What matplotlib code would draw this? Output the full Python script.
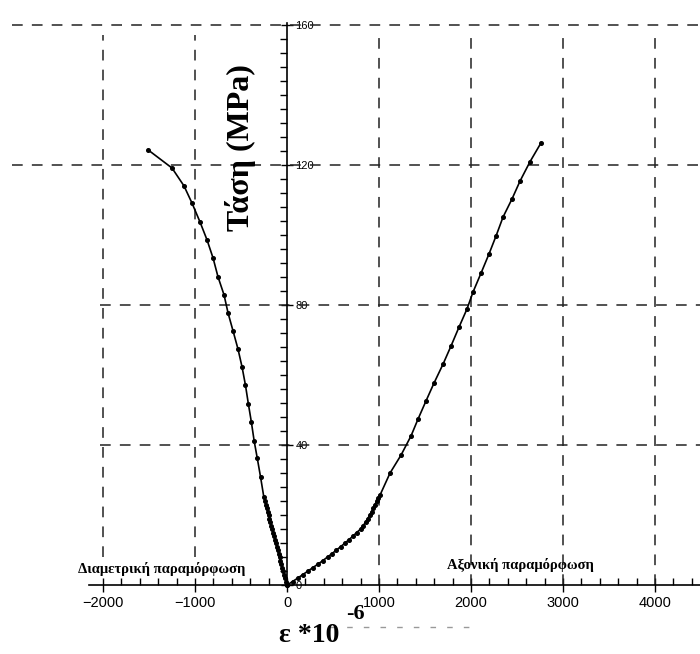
import numpy as np
import matplotlib.pyplot as plt
from matplotlib.ticker import FixedLocator

# diametric strain (negative side), micro-strain vs MPa
diam_strain = [-1511, -1250, -1120, -1033, -946, -870, -804, -750, -685, -641,
               -587, -533, -489, -452, -420, -388, -357, -324, -288, -252,
               -241, -231, -221, -211, -201, -191, -181, -171, -161, -151,
               -141, -131, -121, -111, -101, -91, -81, -71, -61, -51,
               -40, -30, -20, -10, 0]
diam_stress = [124.3, 119.1, 114.0, 109.1, 103.7, 98.6, 93.4, 88.0, 82.9, 77.7,
               72.6, 67.4, 62.3, 57.1, 51.7, 46.6, 41.1, 36.3, 30.9, 25.1,
               24, 23, 22, 21, 20, 19, 18, 17, 16, 15,
               14, 13, 12, 11, 10, 9, 8, 7, 6, 5,
               4, 3, 2, 1, 0]

# axial strain (positive side)
axial_strain = [2761, 2641, 2533, 2446, 2348, 2272, 2196, 2109, 2022, 1957,
                1870, 1783, 1696, 1598, 1511, 1424, 1348, 1239, 1120, 1011,
                992, 975, 957, 939, 920, 900, 878, 855, 828, 800,
                757, 717, 675, 630, 585, 537, 490, 440, 390, 338,
                282, 228, 172, 118, 60, 0]
axial_stress = [126.3, 120.9, 115.4, 110.3, 105.1, 99.7, 94.6, 89.1, 83.7, 78.9,
                73.7, 68.3, 63.1, 57.7, 52.6, 47.4, 42.6, 37.1, 32.0, 25.7,
                25, 24, 23, 22, 21, 20, 19, 18, 17, 16,
                15, 14, 13, 12, 11, 10, 9, 8, 7, 6,
                5, 4, 3, 2, 1, 0]

x_major = [-2000, -1000, 0, 1000, 2000, 3000, 4000]
y_major = [0, 40, 80, 120, 160]
grid_x_neg = [-2000, -1000]
grid_x_pos = [1000, 2000, 3000, 4000]
grid_y_long = [120, 160]
grid_y_short = [40, 80]

fig = plt.figure(figsize=(7.0, 6.54), dpi=100)
ax = fig.add_axes([0, 0, 1, 1])
ax.set_xlim(-3120, 4489)
ax.set_ylim(-19.7, 167.1)

dash = (0, (7, 6))
gcol = '#222222'
ax.hlines(grid_y_long, -2990, 4489, colors=gcol, linestyles=dash, lw=1.1)
ax.hlines(grid_y_short, -2030, 4489, colors=gcol, linestyles=dash, lw=1.1)
ax.vlines(grid_x_neg, 8, 157, colors=gcol, linestyles=dash, lw=1.1)
ax.vlines(grid_x_pos, 0, 157, colors=gcol, linestyles=dash, lw=1.1)
# faint leftover dashes under the axis
ax.hlines([-12], 470, 2100, colors='#999999', linestyles=(0, (4, 8)), lw=1)

ax.plot(diam_strain, diam_stress, color='black', lw=1.2, marker='o', ms=2.6)
ax.plot(axial_strain, axial_stress, color='black', lw=1.2, marker='o', ms=2.6)

for s in ['top', 'left']:
    ax.spines[s].set_visible(False)
ax.spines['bottom'].set_position(('data', 0))
ax.spines['right'].set_position(('data', 0))
ax.spines['bottom'].set_bounds(-2150, 4489)
ax.spines['right'].set_bounds(0, 160.5)
ax.spines['bottom'].set_linewidth(1.2)
ax.spines['right'].set_linewidth(1.2)
ax.yaxis.set_ticks_position('right')

ax.xaxis.set_major_locator(FixedLocator(x_major))
ax.xaxis.set_minor_locator(FixedLocator([v for v in range(-2000, 4490, 200) if v % 1000]))
ax.yaxis.set_major_locator(FixedLocator(y_major))
ax.yaxis.set_minor_locator(FixedLocator([v for v in range(0, 161, 4) if v % 40]))
ax.set_xticklabels(['\u22122000', '\u22121000', '0', '1000', '2000', '3000', '4000'])

ax.tick_params(axis='x', which='major', direction='inout', length=10, width=1,
               labelsize=10.5, pad=3)
ax.tick_params(axis='x', which='minor', direction='in', length=5, width=1)
ax.tick_params(axis='y', which='major', direction='inout', length=8, width=1,
               labelsize=8, pad=2)
ax.tick_params(axis='y', which='minor', direction='in', length=5, width=1)
for lab in ax.get_xticklabels() + ax.get_yticklabels():
    lab.set_family('Liberation Sans')

fig.text(241 / 700, 1 - 148 / 654, 'Τάση (MPa)', rotation=90, ha='center', va='center',
         family='Liberation Serif', weight='bold', fontsize=23)
fig.text(162 / 700, 1 - 569 / 654, 'Διαμετρική παραμόρφωση', ha='center', va='center',
         family='Liberation Serif', weight='bold', fontsize=10.5)
fig.text(520 / 700, 1 - 565 / 654, 'Αξονική παραμόρφωση', ha='center', va='center',
         family='Liberation Serif', weight='bold', fontsize=10.5)
fig.text(279 / 700, 1 - 636 / 654, 'ε *10', ha='left', va='center',
         family='Liberation Serif', weight='bold', fontsize=20)
fig.text(346 / 700, 1 - 614 / 654, '-6', ha='left', va='center',
         family='Liberation Serif', weight='bold', fontsize=16)

fig.savefig('out.png', dpi=100)
